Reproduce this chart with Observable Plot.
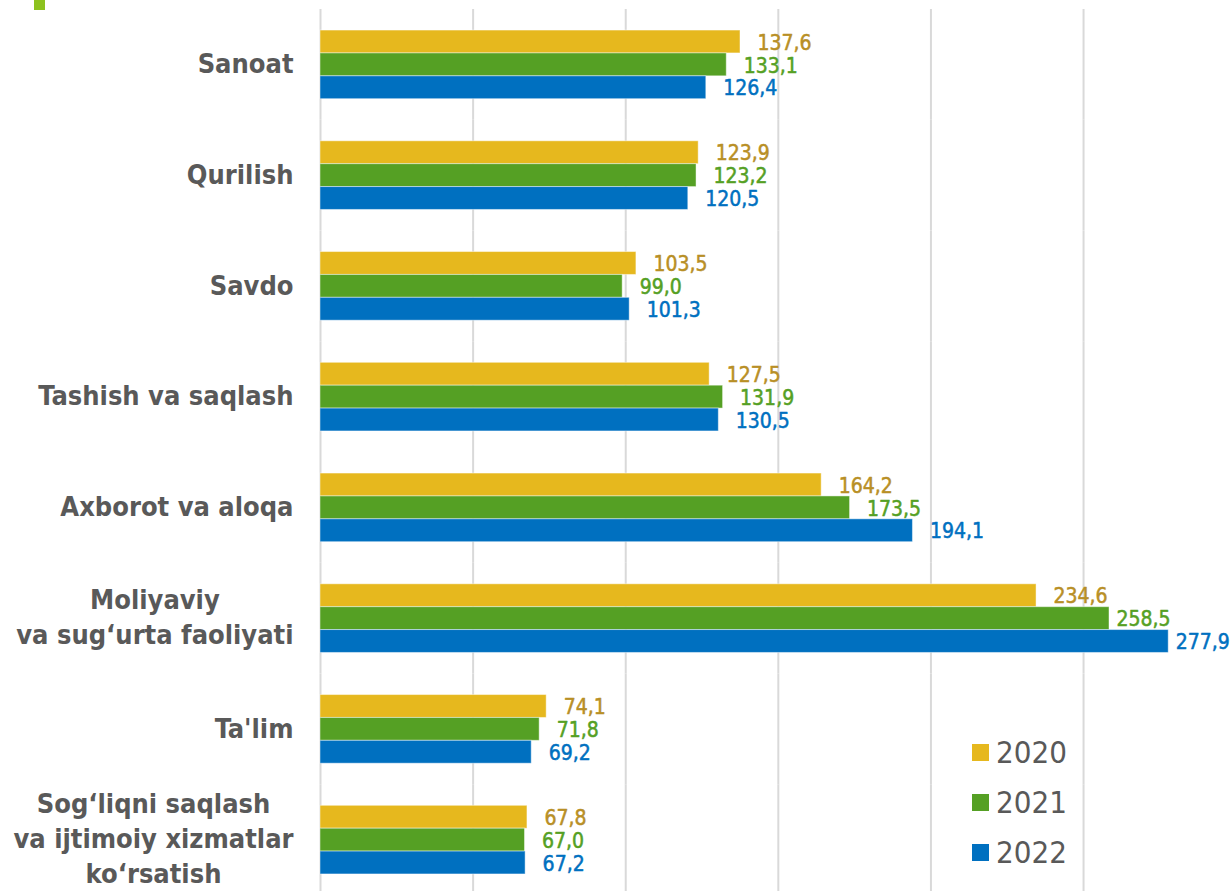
<!DOCTYPE html>
<html><head><meta charset="utf-8">
<script src="https://cdn.jsdelivr.net/npm/d3@7"></script>
<script src="https://cdn.jsdelivr.net/npm/@observablehq/plot@0.6"></script>
<style>
body{margin:0;background:#fff;overflow:hidden}
#chart{position:relative;width:1232px;height:891px;overflow:hidden}
#chart svg{overflow:visible}
.mark{position:absolute;left:34px;top:0;width:11px;height:10px;background:#8dc21f}
.legend{position:absolute;left:972px;top:727px;font-family:"DejaVu Sans Condensed","DejaVu Sans",sans-serif;font-stretch:condensed;font-size:31px;color:#595959}
.legend div{display:flex;align-items:center;height:50px}
.legend span.sw{display:inline-block;width:17px;height:17px;margin-right:7px}
</style></head><body><div id="chart"><div class="mark"></div></div><script>
const categories = ["Sanoat","Qurilish","Savdo","Tashish va saqlash","Axborot va aloqa","Moliyaviy\nva sug‘urta faoliyati","Ta'lim","Sog‘liqni saqlash\nva ijtimoiy xizmatlar\nko‘rsatish"];
const years = ["2020","2021","2022"];
const values2020 = [137.6,123.9,103.5,127.5,164.2,234.6,74.1,67.8];
const values2021 = [133.1,123.2,99.0,131.9,173.5,258.5,71.8,67.0];
const values2022 = [126.4,120.5,101.3,130.5,194.1,277.9,69.2,67.2];
const xTicks = [0,50,100,150,200,250];

const barColors = {"2020":"#e6b81e","2021":"#55a024","2022":"#0070c0"};
const labelColors = {"2020":"#b88f26","2021":"#55a024","2022":"#0070c0"};
const series = {"2020":values2020,"2021":values2021,"2022":values2022};
const rows = years.flatMap(y => categories.map((c,i) => ({category:c, year:y, value:series[y][i]})));
const fmt = d => d.value.toFixed(1).replace(".", ",");

const catFont = "'DejaVu Sans Condensed','DejaVu Sans',sans-serif";
const catSize = 27;
const ctx = document.createElement("canvas").getContext("2d");
ctx.font = `bold ${catSize}px ${catFont}`;
const blockWidth = c => Math.max(...c.split("\n").map(s => ctx.measureText(s).width));

const marks = [
  Plot.gridX(xTicks, {stroke:"#d9d9d9", strokeOpacity:1, strokeWidth:2})
];
for (const y of years) {
  const r = rows.filter(d => d.year === y);
  marks.push(Plot.barX(r, {x:"value", y:"year", fy:"category", fill:barColors[y], stroke:"#ffffff", strokeOpacity:0.45, strokeWidth:1}));
}
const valFont = "'DejaVu Sans Condensed','DejaVu Sans',sans-serif";
for (const y of years) {
  for (const [test, gap] of [[d => d.value < 250, 17], [d => d.value >= 250, 7]]) {
    const r = rows.filter(d => d.year === y && test(d));
    if (!r.length) continue;
    marks.push(Plot.text(r, {x:"value", y:"year", fy:"category", text:fmt, textAnchor:"start", dx:gap, dy:1,
      fill:labelColors[y], stroke:labelColors[y], strokeWidth:0.5, fontSize:21, fontFamily:valFont, fontWeight:"normal"}));
  }
}
for (const c of categories) {
  marks.push(Plot.text([c], {fy:d=>d, text:d=>d, frameAnchor:"left", textAnchor:"middle", dx:-27 - blockWidth(c)/2, dy:-3, lineHeight:1.29,
    fill:"#595959", fontSize:catSize, fontWeight:"bold", fontFamily:catFont}));
}

const chart = Plot.plot({
  width:1232, height:895, marginLeft:320, marginRight:0, marginTop:9, marginBottom:0,
  x:{domain:[0,298.8], axis:null},
  y:{domain:years, paddingInner:0, paddingOuter:0.92, round:false, axis:null},
  fy:{domain:categories, padding:0, round:false, axis:null},
  style:{background:"transparent", overflow:"visible"},
  marks
});
document.getElementById("chart").appendChild(chart);

const lg = document.createElement("div");
lg.className = "legend";
for (const y of years) {
  const row = document.createElement("div");
  row.innerHTML = `<span class="sw" style="background:${barColors[y]}"></span>${y}`;
  lg.appendChild(row);
}
document.getElementById("chart").appendChild(lg);
</script></body></html>
